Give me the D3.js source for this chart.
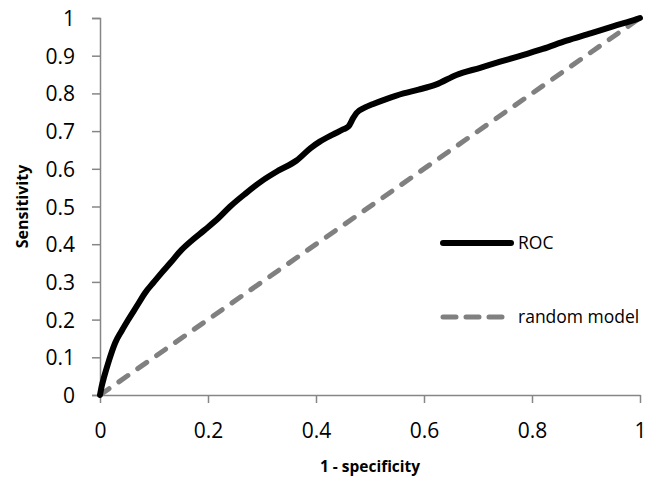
<!DOCTYPE html>
<html>
<head>
<meta charset="utf-8">
<script src="https://cdn.jsdelivr.net/npm/d3@7"></script>
<style>
  body{margin:0;background:#fff;}
  svg{display:block;}
  .axis path,.axis line{stroke:#868686;stroke-width:1.5;}
  .axis text{font-family:"Open Sans",sans-serif;font-size:21px;fill:#000;}
</style>
</head>
<body>
<svg id="chart" width="647" height="477"></svg>
<script>
// ROC curve
const fpr=[0,0.003,0.008,0.015,0.028,0.04,0.052,0.07,0.083,0.1,0.114,0.13,0.151,0.17,0.194,0.22,0.241,0.27,0.302,0.33,0.364,0.39,0.407,0.43,0.451,0.46,0.469,0.475,0.49,0.506,0.53,0.562,0.59,0.623,0.66,0.704,0.741,0.772,0.82,0.864,0.91,0.95,0.994,1]
const tpr=[0,0.022,0.05,0.084,0.138,0.17,0.199,0.24,0.27,0.30,0.324,0.35,0.385,0.41,0.438,0.47,0.50,0.535,0.570,0.595,0.622,0.655,0.672,0.69,0.705,0.712,0.735,0.748,0.762,0.772,0.785,0.80,0.81,0.824,0.849,0.868,0.884,0.897,0.918,0.94,0.96,0.978,0.997,1]
const randomX=[0,1]
const randomY=[0,1]
const xTicks=[0,0.2,0.4,0.6,0.8,1]
const yTicks=[0,0.1,0.2,0.3,0.4,0.5,0.6,0.7,0.8,0.9,1]
const seriesNames=["ROC","random model"]

const svg=d3.select("#chart"),
      margin={top:18,right:7,bottom:82,left:100},
      width=+svg.attr("width")-margin.left-margin.right,
      height=+svg.attr("height")-margin.top-margin.bottom,
      g=svg.append("g").attr("transform",`translate(${margin.left},${margin.top})`);

const x=d3.scaleLinear().domain([0,1]).range([0,width]);
const y=d3.scaleLinear().domain([0,1]).range([height,0]);
const fmt=d=>String(+d.toFixed(1));

g.append("g")
 .attr("class","axis")
 .call(d3.axisLeft(y).tickValues(yTicks).tickFormat(fmt).tickSize(8).tickPadding(17).tickSizeOuter(8))
 .call(a=>a.selectAll("text").attr("dy","0.36em"));

g.append("g")
 .attr("class","axis")
 .attr("transform",`translate(0,${height})`)
 .call(d3.axisBottom(x).tickValues(xTicks).tickFormat(fmt).tickSize(8).tickPadding(20).tickSizeOuter(0));

const line=d3.line().x(d=>x(d[0])).y(d=>y(d[1]));

g.append("path")
 .datum(randomX.map((v,i)=>[v,randomY[i]]))
 .attr("d",line)
 .attr("fill","none")
 .attr("stroke","#808080")
 .attr("stroke-width",5)
 .attr("stroke-dasharray","11,12")
 .attr("stroke-linecap","round");

g.append("path")
 .datum(fpr.map((v,i)=>[v,tpr[i]]))
 .attr("d",line.curve(d3.curveMonotoneX))
 .attr("fill","none")
 .attr("stroke","#000")
 .attr("stroke-width",6)
 .attr("stroke-linejoin","round")
 .attr("stroke-linecap","round");

// legend
const legend=svg.append("g").attr("transform","translate(441,243)");
const styles=[{stroke:"#000",w:6,dash:null},{stroke:"#808080",w:5,dash:"13,10"}];
seriesNames.forEach((name,i)=>{
  const row=legend.append("g").attr("transform",`translate(0,${i*74})`);
  row.append("line").attr("x1",2).attr("x2",70).attr("y1",0).attr("y2",0)
     .attr("stroke",styles[i].stroke).attr("stroke-width",styles[i].w)
     .attr("stroke-linecap","round")
     .attr("stroke-dasharray",styles[i].dash);
  row.append("text").attr("x",77).attr("y",0).attr("dy","0.36em")
     .style("font-family","'Open Sans',sans-serif").style("font-size","17.5px")
     .text(name);
});

// axis titles
svg.append("text")
 .attr("transform",`translate(${margin.left+width/2},472)`)
 .attr("text-anchor","middle")
 .style("font-family","'Open Sans',sans-serif").style("font-size","15.5px").style("font-weight","bold")
 .text("1 - specificity");

svg.append("text")
 .attr("transform",`translate(28,${margin.top+height/2}) rotate(-90)`)
 .attr("text-anchor","middle")
 .style("font-family","'Open Sans',sans-serif").style("font-size","16px").style("font-weight","bold")
 .text("Sensitivity");
</script>
</body>
</html>
